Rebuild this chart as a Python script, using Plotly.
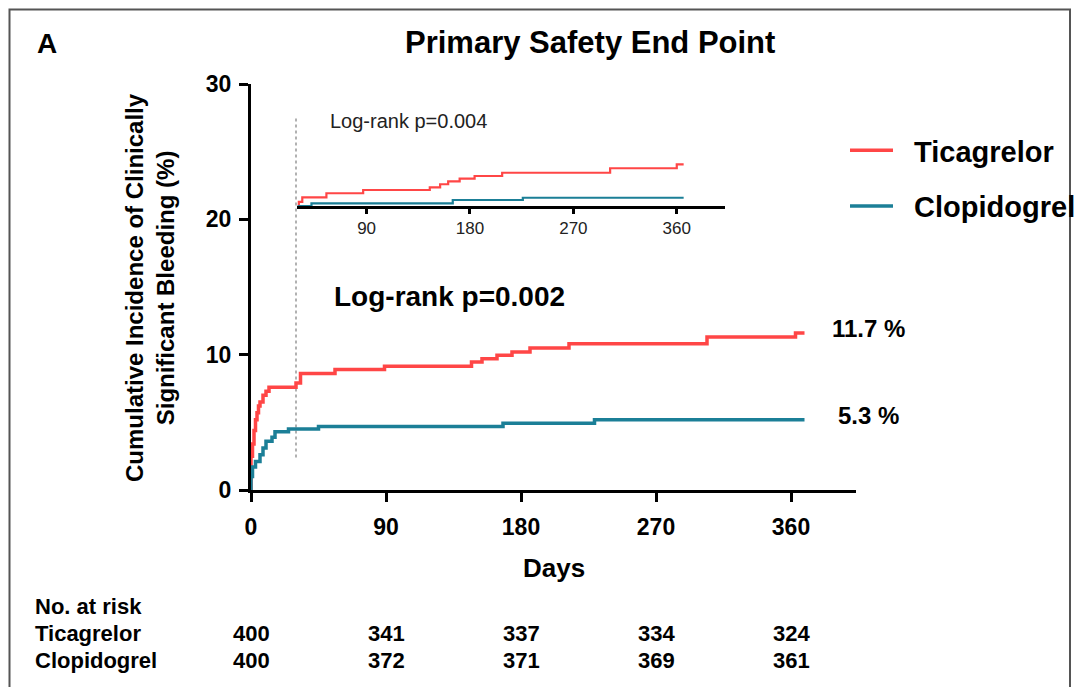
import plotly.graph_objects as go

# ---------------- data ----------------
# Main Kaplan-Meier style cumulative incidence (%), step functions
tica_days = [0, 0, 1, 2, 3, 4, 5, 6, 8, 10, 12, 30, 33, 56, 89, 147, 154, 164, 174, 186, 212, 304, 363, 369]
tica_pct = [0, 2.5, 3.4, 4.4, 5.2, 5.7, 6.2, 6.5, 7.0, 7.3, 7.6, 7.9, 8.6, 8.9, 9.15, 9.45, 9.7, 9.95, 10.2, 10.5, 10.8, 11.3, 11.6, 11.6]

clop_days = [0, 0, 1, 3, 6, 8, 10, 14, 16, 25, 45, 168, 229, 369]
clop_pct = [0, 1.0, 1.7, 2.1, 2.6, 3.1, 3.6, 3.9, 4.3, 4.5, 4.7, 4.93, 5.2, 5.2]

# Landmark inset (from day 30)
tica_inset_days = [30, 31, 34, 55, 87, 145, 154, 161, 171, 184, 208, 302, 360, 366]
tica_inset_pct = [0, 0.4, 0.85, 1.25, 1.57, 1.83, 2.13, 2.42, 2.68, 2.94, 3.26, 3.7, 4.09, 4.09]

clop_inset_days = [30, 42, 165, 226, 366]
clop_inset_pct = [0, 0.26, 0.59, 0.81, 0.81]

series_names = ["Ticagrelor", "Clopidogrel"]
final_pct = [11.7, 5.3]

x_ticks = [0, 90, 180, 270, 360]
y_ticks = [0, 10, 20, 30]
inset_ticks = [90, 180, 270, 360]

risk_days = [0, 90, 180, 270, 360]
risk_tica = [400, 341, 337, 334, 324]
risk_clop = [400, 372, 371, 369, 361]

# ---------------- styling ----------------
RED = "#FF4646"
TEAL = "#1B7F97"
FONT = "Arial, Liberation Sans, sans-serif"
OFF = 8  # page body margin offset
W, H = 1091, 687
PLOT_L, PLOT_R, PLOT_T, PLOT_B = 251, 856, 84, 490  # plot area in page pixels
PW, PH = PLOT_R - PLOT_L, PLOT_B - PLOT_T
L, T = PLOT_L - OFF, PLOT_T - OFF
R = W - L - PW
B = H - T - PH


def px_x(px):
    return (px - PLOT_L) / PW


def px_y(py):
    return (PLOT_B - py) / PH


NB = "\u00a0"

fig = go.Figure()

fig.add_trace(go.Scatter(x=tica_days, y=tica_pct, mode="lines", line=dict(color=RED, width=3.5, shape="hv"),
                         name=NB * 2 + series_names[0], legendgroup="a"))
fig.add_trace(go.Scatter(x=clop_days, y=clop_pct, mode="lines", line=dict(color=TEAL, width=3.5, shape="hv"),
                         name=NB * 2 + series_names[1], legendgroup="b"))

fig.add_trace(go.Scatter(x=tica_inset_days, y=tica_inset_pct, mode="lines", xaxis="x2", yaxis="y2",
                         line=dict(color=RED, width=2.2, shape="hv"), showlegend=False))
fig.add_trace(go.Scatter(x=clop_inset_days, y=clop_inset_pct, mode="lines", xaxis="x2", yaxis="y2",
                         line=dict(color=TEAL, width=2.2, shape="hv"), showlegend=False))

fig.update_layout(
    width=W, height=H,
    margin=dict(l=L, r=R, t=T, b=B, pad=0),
    paper_bgcolor="white", plot_bgcolor="white",
    font=dict(family=FONT, color="black"),
    xaxis=dict(range=[0, PW / 1.5], tickvals=x_ticks, showgrid=False, zeroline=False,
               showline=True, linecolor="black", linewidth=3, ticks="outside", ticklen=9, tickwidth=3,
               tickcolor="black", ticklabelstandoff=5,
               tickfont=dict(size=23, weight="bold", family=FONT)),
    yaxis=dict(range=[0, 30], tickvals=y_ticks, showgrid=False, zeroline=False,
               showline=True, linecolor="black", linewidth=3, ticks="outside", ticklen=9, tickwidth=3,
               tickcolor="black", ticklabelstandoff=3,
               tickfont=dict(size=23, weight="bold", family=FONT)),
    xaxis2=dict(domain=[px_x(297), px_x(725)], anchor="y2", range=[29.4, 402], tickvals=inset_ticks,
                showgrid=False, zeroline=False, showline=True, linecolor="black", linewidth=2.5,
                ticks="outside", ticklen=5, tickwidth=2.5, tickcolor="black",
                tickfont=dict(size=17, family=FONT, color="#222")),
    yaxis2=dict(domain=[px_y(206), px_y(130)], anchor="x2", range=[0, 7.45], showgrid=False,
                zeroline=False, showline=False, showticklabels=False, ticks=""),
    legend=dict(x=px_x(845), y=px_y(125), xanchor="left", yanchor="top", traceorder="grouped",
                tracegroupgap=15, itemwidth=43, bgcolor="rgba(0,0,0,0)",
                font=dict(size=29, weight="bold", family=FONT)),
    showlegend=True,
)

annotations = [
    dict(text="Primary Safety End Point", x=px_x(590), y=px_y(42), xref="paper", yref="paper",
         xanchor="center", yanchor="middle", showarrow=False, font=dict(size=31, weight="bold")),
    dict(text="A", x=px_x(35), y=px_y(43), xref="paper", yref="paper",
         xanchor="left", yanchor="middle", showarrow=False, font=dict(size=28, weight="bold")),
    dict(text="Log-rank p=0.002", x=px_x(332), y=px_y(296), xref="paper", yref="paper",
         xanchor="left", yanchor="middle", showarrow=False, font=dict(size=28, weight="bold")),
    dict(text="Log-rank p=0.004", x=px_x(328), y=px_y(121), xref="paper", yref="paper",
         xanchor="left", yanchor="middle", showarrow=False, font=dict(size=20, color="#222")),
    dict(text="Cumulative Incidence of Clinically<br>Significant Bleeding (%)", x=px_x(150), y=px_y(288),
         xref="paper", yref="paper", xanchor="center", yanchor="middle", textangle=-90, showarrow=False,
         font=dict(size=24, weight="bold")),
    dict(text="Days", x=px_x(554), y=px_y(568), xref="paper", yref="paper",
         xanchor="center", yanchor="middle", showarrow=False, font=dict(size=26, weight="bold")),
    dict(text="No. at risk", x=px_x(33), y=px_y(606), xref="paper", yref="paper",
         xanchor="left", yanchor="middle", showarrow=False, font=dict(size=22, weight="bold")),
    dict(text=series_names[0], x=px_x(33), y=px_y(633), xref="paper", yref="paper",
         xanchor="left", yanchor="middle", showarrow=False, font=dict(size=22, weight="bold")),
    dict(text=series_names[1], x=px_x(33), y=px_y(660), xref="paper", yref="paper",
         xanchor="left", yanchor="middle", showarrow=False, font=dict(size=22, weight="bold")),
]
for v in final_pct:
    annotations.append(dict(text=f"{v} %", x=px_x(868), y=v, xref="paper", yref="y", yshift=3,
                            xanchor="center", yanchor="middle", showarrow=False,
                            font=dict(size=24, weight="bold")))
for d, a, b in zip(risk_days, risk_tica, risk_clop):
    annotations.append(dict(text=str(a), x=d, y=px_y(633), xref="x", yref="paper", xanchor="center",
                            yanchor="middle", showarrow=False, font=dict(size=22, weight="bold")))
    annotations.append(dict(text=str(b), x=d, y=px_y(660), xref="x", yref="paper", xanchor="center",
                            yanchor="middle", showarrow=False, font=dict(size=22, weight="bold")))
fig.update_layout(annotations=annotations)

fig.update_layout(shapes=[
    dict(type="line", xref="x", yref="y", x0=30, x1=30, y0=2.4, y1=27.6,
         line=dict(color="#888", width=1.3, dash="dot"), layer="below"),
    dict(type="rect", xref="paper", yref="paper", x0=px_x(9.5), x1=px_x(1070), y0=px_y(720), y1=px_y(9.5),
         line=dict(color="#555", width=2), fillcolor="rgba(0,0,0,0)"),
])

fig.write_html("out.html")
